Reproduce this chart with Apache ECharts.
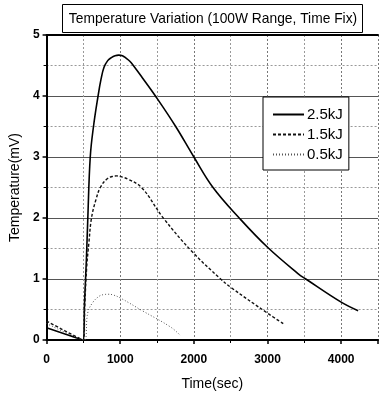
<!DOCTYPE html>
<html>
<head>
<meta charset="utf-8">
<script src="https://cdn.jsdelivr.net/npm/echarts@6/dist/echarts.min.js"></script>
<style>
  html, body { margin: 0; padding: 0; background: #fff; }
  #chart { width: 381px; height: 399px; }
</style>
</head>
<body>
<div id="chart"></div>
<script>
// time (sec) / temperature (mV) pairs
const time25 = [0, 500, 515, 540, 560, 593, 637, 699, 740, 780, 830, 880, 930, 979, 1030, 1080, 1130, 1178, 1300, 1478, 1753, 2000, 2260, 2616, 3000, 3413, 3520, 4000, 4230];
const temp25 = [0.2, 0, 0.6, 1.3, 2.0, 3.0, 3.5, 4.0, 4.28, 4.47, 4.58, 4.63, 4.66, 4.67, 4.66, 4.62, 4.57, 4.5, 4.3, 4.0, 3.5, 3.0, 2.5, 2.0, 1.52, 1.09, 1.0, 0.62, 0.48];

const time15 = [0, 500, 520, 545, 575, 610, 670, 730, 820, 890, 956, 1030, 1100, 1290, 1585, 1975, 2364, 2505, 3000, 3236];
const temp15 = [0.31, 0, 0.6, 1.2, 1.6, 2.0, 2.3, 2.5, 2.64, 2.68, 2.69, 2.67, 2.64, 2.5, 2.0, 1.45, 1.0, 0.86, 0.44, 0.25];

const time05 = [0, 514, 558, 624, 717, 780, 837, 900, 1000, 1300, 1687, 1820];
const temp05 = [0.27, 0, 0.44, 0.61, 0.72, 0.745, 0.75, 0.74, 0.69, 0.48, 0.21, 0.07];

const seriesNames = ['2.5kJ', '1.5kJ', '0.5kJ'];
const xTicks = [0, 1000, 2000, 3000, 4000];
const yTicks = [0, 1, 2, 3, 4, 5];

const FONT = '"Liberation Sans", Arial, sans-serif';
const zip = (xs, ys) => xs.map((x, i) => [x, ys[i]]);

const chart = echarts.init(document.getElementById('chart'), null, { renderer: 'canvas' });

chart.setOption({
  animation: false,
  backgroundColor: '#fff',
  grid: { left: 43, right: 0, top: 35, bottom: 59 },
  xAxis: [
    {
      type: 'value',
      min: 0,
      max: 4500,
      interval: 1000,
      offset: 6,
      name: 'Time(sec)',
      nameLocation: 'middle',
      nameGap: 31,
      nameTextStyle: { fontFamily: FONT, fontSize: 14, color: '#000' },
      axisLine: { lineStyle: { color: '#000', width: 2 } },
      axisTick: { show: true, length: 4, lineStyle: { color: '#000', width: 1.5 } },
      minorTick: { show: true, splitNumber: 2, length: 3, lineStyle: { color: '#000' } },
      axisLabel: {
        fontFamily: FONT, fontSize: 12, fontWeight: 'bold', color: '#000', margin: 8,
        formatter: (v) => (xTicks.includes(v) ? String(v) : '')
      },
      splitLine: { show: true, lineStyle: { color: '#777', type: [2, 2], width: 1 } },
      minorSplitLine: { show: true, lineStyle: { color: '#999', type: [2, 2], width: 1 } }
    },
    {
      type: 'value',
      position: 'top',
      min: 0,
      max: 4500,
      axisLine: { show: true, lineStyle: { color: '#000', width: 2 } },
      axisTick: { show: false },
      axisLabel: { show: false },
      splitLine: { show: false }
    }
  ],
  yAxis: {
    type: 'value',
    min: 0,
    max: 5,
    interval: 1,
    name: 'Temperature(mV)',
    nameLocation: 'middle',
    nameGap: 23,
    nameTextStyle: { fontFamily: FONT, fontSize: 14, color: '#000' },
    axisLine: { show: true, lineStyle: { color: '#000', width: 2 } },
    axisTick: { show: true, length: 4, lineStyle: { color: '#000', width: 1.5 } },
    minorTick: { show: true, splitNumber: 2, length: 3, lineStyle: { color: '#000' } },
    axisLabel: {
      fontFamily: FONT, fontSize: 12, fontWeight: 'bold', color: '#000', margin: 7,
      formatter: (v) => (yTicks.includes(v) ? String(v) : '')
    },
    splitLine: { show: true, lineStyle: { color: '#555', width: 1 } },
    minorSplitLine: { show: true, lineStyle: { color: '#999', type: [2, 2], width: 1 } }
  },
  legend: {
    orient: 'vertical',
    left: 263,
    top: 97,
    data: seriesNames,
    backgroundColor: '#fff',
    borderColor: '#000',
    borderWidth: 1,
    padding: [10, 6, 8, 9],
    itemWidth: 31,
    itemHeight: 14,
    itemGap: 5,
    itemStyle: { opacity: 0 },
    textStyle: { fontFamily: FONT, fontSize: 15, color: '#000', padding: [0, 0, 0, -2] }
  },
  series: [
    {
      name: seriesNames[0],
      type: 'line',
      data: zip(time25, temp25),
      smooth: 0.4,
      symbol: 'none',
      lineStyle: { color: '#000', width: 1.6, type: 'solid' },
      itemStyle: { color: '#000' },
      z: 5
    },
    {
      name: seriesNames[1],
      type: 'line',
      data: zip(time15, temp15),
      smooth: 0.4,
      symbol: 'none',
      lineStyle: { color: '#111', width: 1.4, type: [3, 2] },
      itemStyle: { color: '#111' },
      z: 5
    },
    {
      name: seriesNames[2],
      type: 'line',
      data: zip(time05, temp05),
      smooth: 0.4,
      symbol: 'none',
      lineStyle: { color: '#555', width: 1, type: [1, 2] },
      itemStyle: { color: '#555' },
      z: 5
    }
  ],
  graphic: [
    {
      type: 'rect',
      shape: { x: 62.5, y: 4.5, width: 300, height: 28 },
      style: { fill: '#fff', stroke: '#000', lineWidth: 1 },
      z: 100
    },
    {
      type: 'text',
      x: 213,
      y: 19,
      scaleX: 0.92,
      style: {
        text: 'Temperature Variation (100W Range, Time Fix)',
        fontFamily: FONT,
        fontSize: 15,
        fill: '#000',
        align: 'center',
        verticalAlign: 'middle'
      },
      z: 101
    }
  ]
});
</script>
</body>
</html>
